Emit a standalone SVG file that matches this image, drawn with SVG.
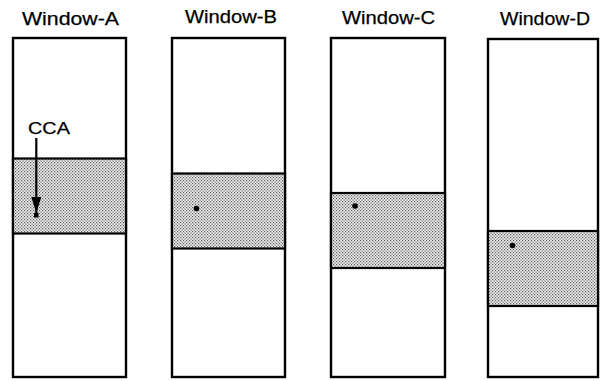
<svg xmlns="http://www.w3.org/2000/svg" width="600" height="381" viewBox="0 0 600 381">
<defs>
<pattern id="dots" width="3" height="3" patternUnits="userSpaceOnUse">
<rect width="3" height="3" fill="#f2f2f2"/>
<rect x="0" y="0" width="1.2" height="1.2" fill="#555"/>
<rect x="1.5" y="1.5" width="1.2" height="1.2" fill="#555"/>
</pattern>
<marker id="ah" viewBox="0 0 16 10" refX="16" refY="5" markerWidth="16" markerHeight="10" markerUnits="userSpaceOnUse" orient="auto">
<path d="M0,0 L16,5 L0,10 Z" fill="#000"/>
</marker>
</defs>
<style>
.win{fill:#fff;stroke:#000;stroke-width:2.4}
.band{fill:url(#dots);stroke:#000;stroke-width:2.2}
.lbl{font-family:"Liberation Sans",Arial,sans-serif;font-size:18.5px;fill:#000;stroke:#000;stroke-width:0.25}
.dot{fill:#000}
</style>
<rect width="600" height="381" fill="#fff"/>
<g id="window-a">
<text class="lbl" x="22" y="24.5" textLength="97" lengthAdjust="spacingAndGlyphs">Window-A</text>
<rect class="win" x="13" y="38" width="113" height="339"/>
<rect class="band" x="13" y="158.5" width="113" height="75"/>
<rect class="dot" x="34" y="213" width="4.5" height="4.5"/>
</g>
<g id="window-b">
<text class="lbl" x="185" y="23" textLength="92" lengthAdjust="spacingAndGlyphs">Window-B</text>
<rect class="win" x="172" y="38" width="113" height="339"/>
<rect class="band" x="172" y="173.5" width="113" height="75"/>
<circle class="dot" cx="196.5" cy="208.5" r="2.8"/>
</g>
<g id="window-c">
<text class="lbl" x="342" y="23.5" textLength="93" lengthAdjust="spacingAndGlyphs">Window-C</text>
<rect class="win" x="331" y="38" width="114" height="339"/>
<rect class="band" x="331" y="193" width="114" height="75"/>
<circle class="dot" cx="355" cy="206" r="2.8"/>
</g>
<g id="window-d">
<text class="lbl" x="500" y="24.5" textLength="90" lengthAdjust="spacingAndGlyphs">Window-D</text>
<rect class="win" x="488" y="39" width="110" height="338"/>
<rect class="band" x="488" y="231" width="110" height="75"/>
<circle class="dot" cx="512.5" cy="245.5" r="2.8"/>
</g>
<g id="cca-label">
<text class="lbl" x="28" y="134" textLength="42" lengthAdjust="spacingAndGlyphs" style="font-size:16px">CCA</text>
</g>
<g id="connectors">
<line x1="36.3" y1="138" x2="36.3" y2="213" stroke="#000" stroke-width="2.2" marker-end="url(#ah)"/>
</g>
</svg>
